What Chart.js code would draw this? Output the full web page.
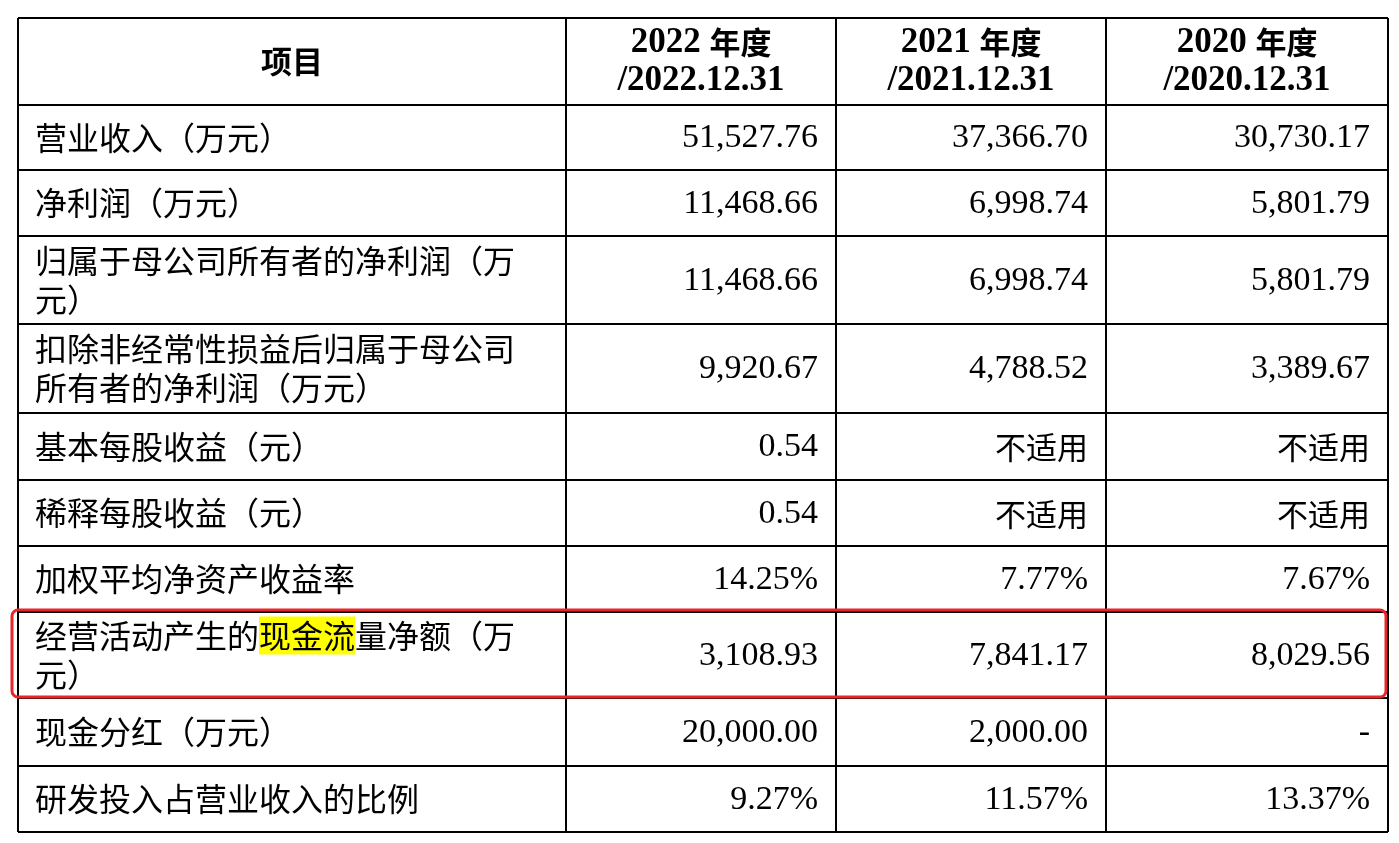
<!DOCTYPE html>
<html>
<head>
<meta charset="utf-8">
<script src="https://cdn.jsdelivr.net/npm/chart.js@4.4.0/dist/chart.umd.min.js"></script>
<style>
  html, body { margin: 0; padding: 0; background: #fff; }
  canvas { display: block; }
</style>
</head>
<body>
<canvas id="tbl" width="1399" height="843"></canvas>
<script>
// table content
const headers = ["项目", "2022 年度\n/2022.12.31", "2021 年度\n/2021.12.31", "2020 年度\n/2020.12.31"];
const items = [
  "营业收入（万元）",
  "净利润（万元）",
  "归属于母公司所有者的净利润（万\n元）",
  "扣除非经常性损益后归属于母公司\n所有者的净利润（万元）",
  "基本每股收益（元）",
  "稀释每股收益（元）",
  "加权平均净资产收益率",
  "经营活动产生的现金流量净额（万\n元）",
  "现金分红（万元）",
  "研发投入占营业收入的比例"
];
const y2022 = ["51,527.76", "11,468.66", "11,468.66", "9,920.67", "0.54", "0.54", "14.25%", "3,108.93", "20,000.00", "9.27%"];
const y2021 = ["37,366.70", "6,998.74", "6,998.74", "4,788.52", "不适用", "不适用", "7.77%", "7,841.17", "2,000.00", "11.57%"];
const y2020 = ["30,730.17", "5,801.79", "5,801.79", "3,389.67", "不适用", "不适用", "7.67%", "8,029.56", "-", "13.37%"];

// grid edges in chart units
const colEdges = [18, 566, 836, 1106, 1388];
const rowEdges = [18, 105, 170, 236, 324, 413, 480, 546, 612, 698, 766, 832];
const highlightRow = 7;
const highlightWord = "现金流";

const CJK = '"Noto Sans CJK SC", sans-serif';
const SERIF = '"Liberation Serif", "DejaVu Serif", serif';

const tablePlugin = {
  id: 'tablePlugin',
  afterDraw(chart) {
    const ctx = chart.ctx;
    const xs = chart.scales.x, ys = chart.scales.y;
    const X = v => xs.getPixelForValue(v);
    const Y = v => ys.getPixelForValue(v);
    ctx.save();
    ctx.fillStyle = '#fff';
    ctx.fillRect(0, 0, chart.width, chart.height);

    // grid
    ctx.strokeStyle = '#000';
    ctx.lineWidth = 2;
    colEdges.forEach(c => { ctx.beginPath(); ctx.moveTo(X(c), Y(rowEdges[0])); ctx.lineTo(X(c), Y(rowEdges[rowEdges.length - 1])); ctx.stroke(); });
    rowEdges.forEach(r => { ctx.beginPath(); ctx.moveTo(X(colEdges[0]), Y(r)); ctx.lineTo(X(colEdges[colEdges.length - 1]), Y(r)); ctx.stroke(); });

    // header
    ctx.fillStyle = '#000';
    ctx.textBaseline = 'middle';
    ctx.textAlign = 'center';
    headers.forEach((h, i) => {
      const cx = (X(colEdges[i]) + X(colEdges[i + 1])) / 2;
      const cy = (Y(rowEdges[0]) + Y(rowEdges[1])) / 2;
      const lines = h.split('\n');
      lines.forEach((ln, k) => {
        const ly = cy + (k - (lines.length - 1) / 2) * 38;
        if (i === 0) {
          ctx.font = 'bold 31px ' + CJK;
          ctx.fillText(ln, cx, ly);
        } else if (k === 0) {
          const parts = ln.split(' ');
          ctx.font = 'bold 35px ' + SERIF;
          const w1 = ctx.measureText(parts[0] + ' ').width;
          ctx.font = 'bold 31px ' + CJK;
          const w2 = ctx.measureText(parts[1]).width;
          const sx = cx - (w1 + w2) / 2;
          ctx.textAlign = 'left';
          ctx.font = 'bold 35px ' + SERIF;
          ctx.fillText(parts[0] + ' ', sx, ly);
          ctx.font = 'bold 31px ' + CJK;
          ctx.fillText(parts[1], sx + w1, ly);
          ctx.textAlign = 'center';
        } else {
          ctx.font = 'bold 35px ' + SERIF;
          ctx.fillText(ln, cx, ly);
        }
      });
    });

    // body
    const cols = [y2022, y2021, y2020];
    items.forEach((it, r) => {
      const cy = (Y(rowEdges[r + 1]) + Y(rowEdges[r + 2])) / 2;
      const lines = it.split('\n');
      ctx.textAlign = 'left';
      ctx.font = '32px ' + CJK;
      lines.forEach((ln, k) => {
        const ly = cy + (k - (lines.length - 1) / 2) * 39;
        const lx = X(colEdges[0]) + 17;
        if (r === highlightRow && ln.includes(highlightWord)) {
          const idx = ln.indexOf(highlightWord);
          const pre = ctx.measureText(ln.slice(0, idx)).width;
          const w = ctx.measureText(highlightWord).width;
          ctx.fillStyle = '#FFFF00';
          ctx.fillRect(lx + pre, ly - 19, w, 38);
          ctx.fillStyle = '#000';
        }
        ctx.fillText(ln, lx, ly);
      });
      ctx.textAlign = 'right';
      cols.forEach((col, c) => {
        const v = col[r];
        ctx.font = /[\u4e00-\u9fff]/.test(v) ? '31px ' + CJK : '34px ' + SERIF;
        ctx.fillText(v, X(colEdges[c + 2]) - 18, cy + 1);
      });
    });

    // red highlight box
    ctx.strokeStyle = '#E8262A';
    ctx.lineWidth = 3;
    const bx = X(12), by = Y(rowEdges[highlightRow + 1] - 2), bw = X(1386) - bx, bh = Y(rowEdges[highlightRow + 2] - 1) - by;
    ctx.beginPath();
    ctx.roundRect(bx, by, bw, bh, 6);
    ctx.stroke();
    ctx.restore();
  }
};

new Chart(document.getElementById('tbl'), {
  type: 'scatter',
  data: { datasets: [{ data: [] }] },
  options: {
    responsive: false,
    animation: false,
    layout: { padding: 0 },
    plugins: { legend: { display: false }, tooltip: { enabled: false } },
    scales: {
      x: { type: 'linear', min: 0, max: 1399, display: false },
      y: { type: 'linear', min: 0, max: 843, reverse: true, display: false }
    }
  },
  plugins: [tablePlugin]
});
</script>
</body>
</html>
